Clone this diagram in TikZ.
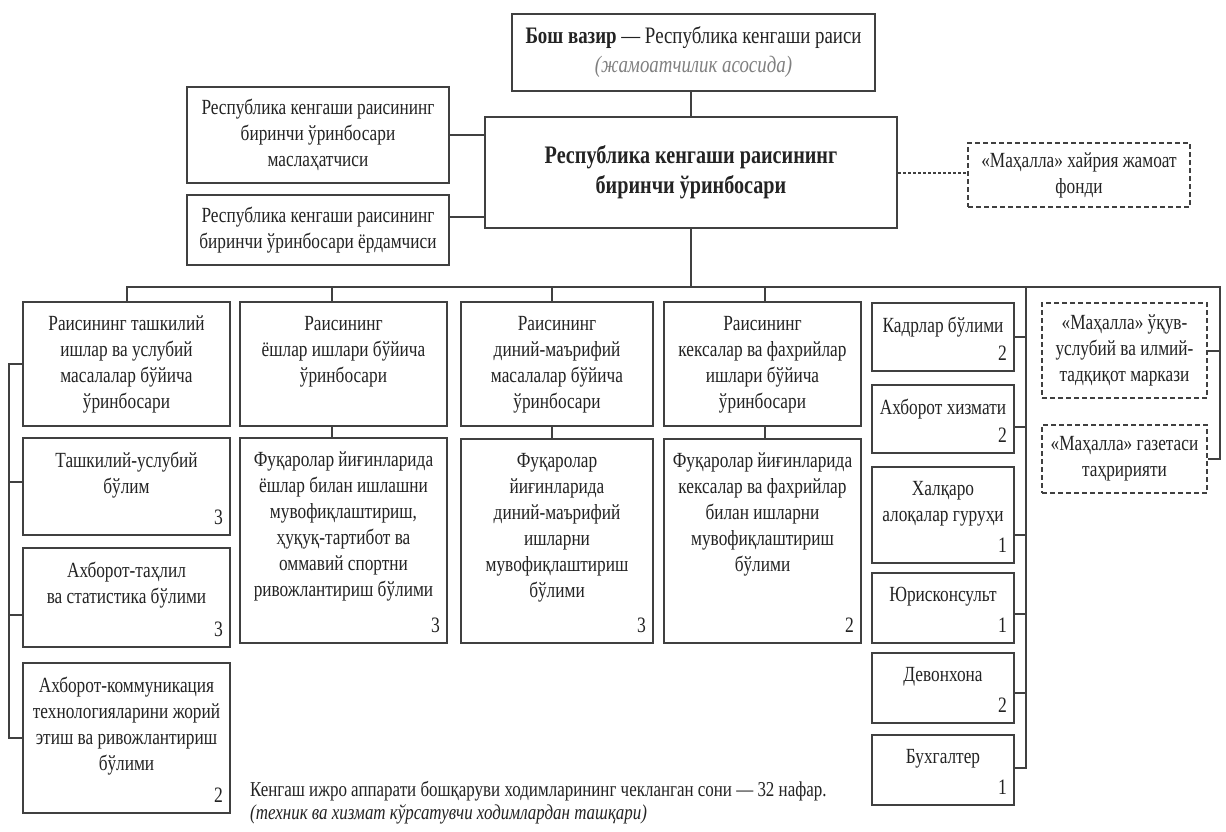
\documentclass[tikz,border=0pt]{standalone}
\usepackage{fontspec}
\setmainfont{Liberation Serif}[FakeStretch=0.80]
\usepackage{tikz}
\usetikzlibrary{positioning,calc}
\usepackage{xcolor}
\definecolor{orgline}{RGB}{64,64,64}
\definecolor{orgtext}{RGB}{35,35,35}
\tikzstyle{unit} = [draw=orgline, line width=2pt, fill=white, inner sep=0pt, text=orgtext, font=\fontsize{21.6}{26}\selectfont]
\tikzstyle{head} = [unit, align=center]
\tikzstyle{ngo} = [head, dash pattern=on 5pt off 3pt]
\tikzstyle{num} = [anchor=south east, inner sep=0pt, xshift=-8pt, yshift=11pt, text=orgtext, font=\fontsize{22}{26}\selectfont]
\tikzstyle{link} = [line width=2pt, draw=orgline]
\newcommand{\cellbox}[3]{\parbox[c][#2pt][t]{#1pt}{\centering\vspace*{14pt}#3}}

\begin{document}
\begin{tikzpicture}[x=1pt,y=-1pt]
\fill[white] (0,0) rectangle (1226,831);
\useasboundingbox (0,0) rectangle (1226,831);

% Leadership
\node[head, minimum width=363, minimum height=77, font=\fontsize{23.6}{29}\selectfont] (chair) at (693.5,52.5)
  {\textbf{Бош вазир} — Республика кенгаши раиси\\{\color{gray}\textit{(жамоатчилик асосида)}}};
\node[head, minimum width=412, minimum height=111, font=\bfseries\fontsize{25.2}{30}\selectfont] (dep) at (691,172.5)
  {Республика кенгаши раисининг\\биринчи ўринбосари};
\node[head, minimum width=262, minimum height=96] (adv1) at (318,135)
  {Республика кенгаши раисининг\\биринчи ўринбосари\\маслаҳатчиси};
\node[head, minimum width=262, minimum height=70] (adv2) at (318,230)
  {Республика кенгаши раисининг\\биринчи ўринбосари ёрдамчиси};
\node[ngo, minimum width=222, minimum height=64] (fund) at (1079,175)
  {«Маҳалла» хайрия жамоат\\фонди};

% Deputies
\node[unit] (v1) at (126.5,364) {\cellbox{207}{124}{Раисининг ташкилий\\ишлар ва услубий\\масалалар бўйича\\ўринбосари}};
\node[unit] (v2) at (343.5,364) {\cellbox{207}{124}{Раисининг\\ёшлар ишлари бўйича\\ўринбосари}};
\node[unit] (v3) at (557,364) {\cellbox{192}{124}{Раисининг\\диний-маърифий\\масалалар бўйича\\ўринбосари}};
\node[unit] (v4) at (762.5,364) {\cellbox{197}{124}{Раисининг\\кексалар ва фахрийлар\\ишлари бўйича\\ўринбосари}};

% Departments
\node[unit, label={[num]south east:3}] (s1) at (126.5,486.5) {\cellbox{207}{97}{Ташкилий-услубий\\бўлим}};
\node[unit, label={[num]south east:3}] (s2) at (126.5,597.5) {\cellbox{207}{99}{Ахборот-таҳлил\\ва статистика бўлими}};
\node[unit, label={[num]south east:2}] (s3) at (126.5,738) {\cellbox{207}{150}{Ахборот-коммуникация\\технологияларини жорий\\этиш ва ривожлантириш\\бўлими}};
\node[unit, label={[num]south east:3}] (u2) at (343.5,540.5) {\cellbox{207}{205}{Фуқаролар йиғинларида\\ёшлар билан ишлашни\\мувофиқлаштириш,\\ҳуқуқ-тартибот ва\\оммавий спортни\\ривожлантириш бўлими}};
\node[unit, label={[num]south east:3}] (u3) at (557,541) {\cellbox{192}{204}{Фуқаролар\\йиғинларида\\диний-маърифий\\ишларни\\мувофиқлаштириш\\бўлими}};
\node[unit, label={[num]south east:2}] (u4) at (762.5,541) {\cellbox{197}{204}{Фуқаролар йиғинларида\\кексалар ва фахрийлар\\билан ишларни\\мувофиқлаштириш\\бўлими}};

% Staff units
\node[unit, label={[num]south east:2}] (r1) at (943,337) {\cellbox{142}{68}{Кадрлар бўлими}};
\node[unit, label={[num]south east:2}] (r2) at (943,419) {\cellbox{142}{68}{Ахборот хизмати}};
\node[unit, label={[num]south east:1}] (r3) at (943,515) {\cellbox{142}{96}{Халқаро\\алоқалар гуруҳи}};
\node[unit, label={[num]south east:1}] (r4) at (943,608) {\cellbox{142}{70}{Юрисконсульт}};
\node[unit, label={[num]south east:2}] (r5) at (943,688) {\cellbox{142}{70}{Девонхона}};
\node[unit, label={[num]south east:1}] (r6) at (943,770) {\cellbox{142}{70}{Бухгалтер}};

% Mahalla organisations
\node[ngo, minimum width=165, minimum height=95] (m1) at (1124.5,350.5) {«Маҳалла» ўқув-\\услубий ва илмий-\\тадқиқот маркази};
\node[ngo, minimum width=165, minimum height=68] (m2) at (1124.5,459) {«Маҳалла» газетаси\\таҳририяти};

% Note
\node[anchor=north west, inner sep=0pt, align=left, text=orgtext, font=\fontsize{21.2}{23}\selectfont] (note) at (250,781)
  {Кенгаш ижро аппарати бошқаруви ходимларининг чекланган сони — 32 нафар.\\\textit{(техник ва хизмат кўрсатувчи ходимлардан ташқари)}};

% Links at the top
\draw[link] (chair.south -| dep.north) -- (dep.north);
\draw[link] (adv1.east) -- (adv1.east -| dep.west);
\draw[link] ([yshift=13pt]adv2.east) -- ([yshift=13pt]adv2.east -| dep.west);
\draw[link, dash pattern=on 3pt off 2pt] (dep.east) -- (dep.east -| fund.west);

% Main bus
\coordinate (bus) at (691,287);
\coordinate (rspine) at (1026,287);
\coordinate (rend) at (1220,287);
\draw[link] (dep.south) -- (bus);
\draw[link] (v1.north) |- (rend) |- (m2.east);
\draw[link] (m1.east) -- (m1.east -| rend);
\draw[link] ([xshift=-12pt]v2.north) -- ([xshift=-12pt]v2.north |- bus);
\draw[link] ([xshift=-5pt]v3.north) -- ([xshift=-5pt]v3.north |- bus);
\draw[link] ([xshift=2.5pt]v4.north) -- ([xshift=2.5pt]v4.north |- bus);

% Deputies to departments
\draw[link] ([xshift=-12pt]v2.south) -- ([xshift=-12pt]u2.north);
\draw[link] ([xshift=-5pt]v3.south) -- ([xshift=-5pt]u3.north);
\draw[link] ([xshift=2.5pt]v4.south) -- ([xshift=2.5pt]u4.north);

% Left spine
\draw[link] (v1.west) -- ++(-13,0) |- (s3.west);
\draw[link] ([yshift=4.5pt]s1.west) -- ++(-13,0);
\draw[link] ([yshift=-17.5pt]s2.west) -- ++(-13,0);

% Right spine
\draw[link] (rspine) |- ([yshift=2pt]r6.east);
\draw[link] (r1.east) -- ++(12,0);
\draw[link] ([yshift=-8pt]r2.east) -- ++(12,0);
\draw[link] ([yshift=-20pt]r3.east) -- ++(12,0);
\draw[link] ([yshift=-6pt]r4.east) -- ++(12,0);
\draw[link] ([yshift=-5pt]r5.east) -- ++(12,0);
\end{tikzpicture}
\end{document}
